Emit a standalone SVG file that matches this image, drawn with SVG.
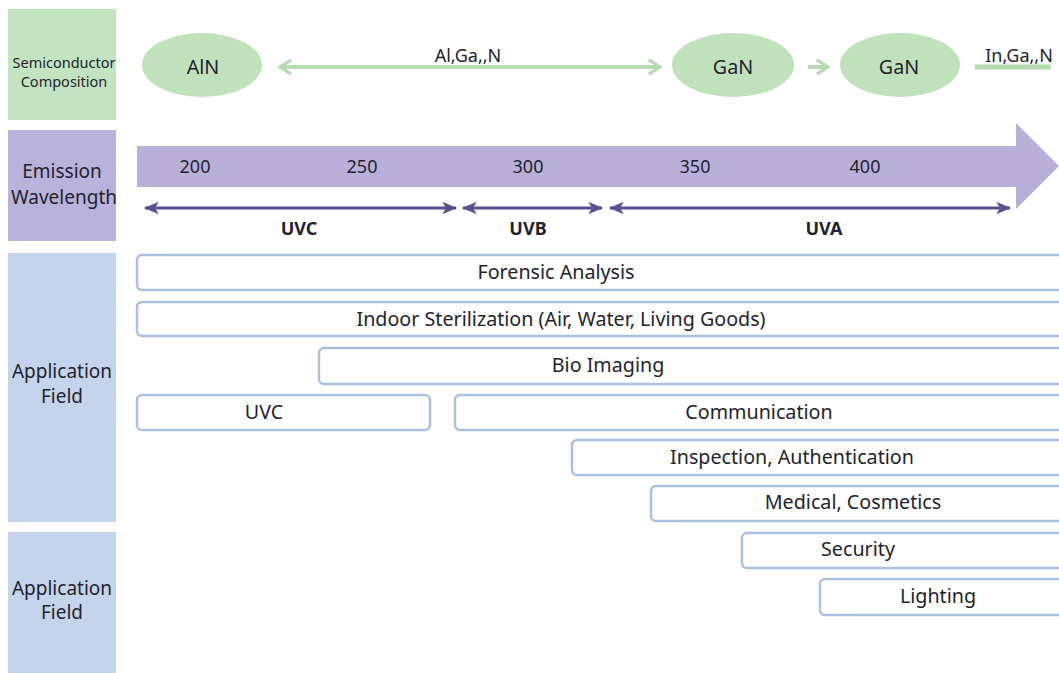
<svg xmlns="http://www.w3.org/2000/svg" width="1059" height="673" viewBox="0 0 1059 673">
<defs>
<style>
text{font-family:"Noto Sans","Open Sans","Liberation Sans",sans-serif;fill:#23232f;text-anchor:middle;dominant-baseline:central}
.lbl{font-size:19px}
.num{font-size:18px}
.band{font-size:18px;font-weight:bold}
.app{font-size:19.7px}
.box{fill:#ffffff;stroke:#aac2df;stroke-width:2.5}
.ell{fill:#bfe2bb}
.gline{stroke:#b4dcae;stroke-width:4;fill:none}
.pline{stroke:#5b5190;stroke-width:3;fill:none}
</style>
<marker id="gh" viewBox="0 0 10 10" refX="8" refY="5" markerWidth="4" markerHeight="4" orient="auto-start-reverse" markerUnits="strokeWidth">
<path d="M1,0.5 L8,5 L1,9.5" fill="none" stroke="#b4dcae" stroke-width="2"/>
</marker>
<marker id="ph" viewBox="0 0 12 10" refX="11" refY="5" markerWidth="5" markerHeight="4.5" orient="auto-start-reverse" markerUnits="strokeWidth">
<path d="M0,0 L12,5 L0,10 L3,5 Z" fill="#5b5190"/>
</marker>
</defs>
<rect width="1059" height="673" fill="#ffffff"/>

<g id="row-labels">
<g id="label-semiconductor">
<rect x="8" y="9" width="108" height="111" fill="#c3e4c0"/>
<text x="64" y="62" style="font-size:14.5px">Semiconductor</text>
<text x="64" y="81" style="font-size:14.5px">Composition</text>
</g>
<g id="label-emission">
<rect x="8" y="130" width="108" height="111" fill="#b9b2da"/>
<text class="lbl" x="62" y="171">Emission</text>
<text class="lbl" x="64" y="197">Wavelength</text>
</g>
<g id="label-app1">
<rect x="8" y="253" width="108" height="269" fill="#c3d4ec"/>
<text class="lbl" x="62" y="371">Application</text>
<text class="lbl" x="62" y="396">Field</text>
</g>
<g id="label-app2">
<rect x="8" y="532" width="108" height="141" fill="#c3d4ec"/>
<text class="lbl" x="62" y="588">Application</text>
<text class="lbl" x="62" y="612">Field</text>
</g>
</g>

<g id="node-aln"><ellipse class="ell" cx="202" cy="65" rx="60" ry="32"/><text class="app" x="203" y="66">AlN</text></g>
<g id="node-gan1"><ellipse class="ell" cx="733" cy="65" rx="61" ry="32"/><text class="app" x="733" y="66">GaN</text></g>
<g id="node-gan2"><ellipse class="ell" cx="900" cy="65" rx="60" ry="32"/><text class="app" x="899" y="66">GaN</text></g>

<g id="wavelength-bar">
<path d="M137,146 L1016,146 L1016,123 L1059,166 L1016,209 L1016,187 L137,187 Z" fill="#b8b0d9"/>
<text class="num" x="195" y="166">200</text>
<text class="num" x="362" y="166">250</text>
<text class="num" x="528" y="166">300</text>
<text class="num" x="695" y="166">350</text>
<text class="num" x="865" y="166">400</text>
</g>

<g id="connectors">
<line class="gline" x1="280" y1="67" x2="660" y2="67" marker-start="url(#gh)" marker-end="url(#gh)"/>
<line class="gline" x1="808" y1="67" x2="828" y2="67" marker-end="url(#gh)"/>
<line class="gline" x1="975" y1="67" x2="1051" y2="67" style="stroke-width:5"/>
<line class="pline" x1="145" y1="208" x2="456" y2="208" marker-start="url(#ph)" marker-end="url(#ph)"/>
<line class="pline" x1="463" y1="208" x2="602" y2="208" marker-start="url(#ph)" marker-end="url(#ph)"/>
<line class="pline" x1="610" y1="208" x2="1010" y2="208" marker-start="url(#ph)" marker-end="url(#ph)"/>
</g>

<g id="composition-labels">
<text x="468" y="55" style="font-size:18px">Al,Ga,,N</text>
<text x="1019" y="55" style="font-size:18px">In,Ga,,N</text>
</g>

<g id="band-labels">
<text class="band" x="299" y="228">UVC</text>
<text class="band" x="528" y="228">UVB</text>
<text class="band" x="824" y="228">UVA</text>
</g>

<g id="app-forensic"><rect class="box" x="137" y="255" width="930" height="35" rx="5"/><text class="app" x="556" y="271">Forensic Analysis</text></g>
<g id="app-sterilization"><rect class="box" x="137" y="302" width="930" height="34" rx="5"/><text class="app" x="561" y="318">Indoor Sterilization (Air, Water, Living Goods)</text></g>
<g id="app-bio"><rect class="box" x="319" y="348" width="748" height="36" rx="5"/><text class="app" x="608" y="364">Bio Imaging</text></g>
<g id="app-uvc"><rect class="box" x="137" y="395" width="293" height="35" rx="5"/><text class="app" x="264" y="411">UVC</text></g>
<g id="app-communication"><rect class="box" x="455" y="395" width="612" height="35" rx="5"/><text class="app" x="759" y="411">Communication</text></g>
<g id="app-inspection"><rect class="box" x="572" y="440" width="495" height="35" rx="5"/><text class="app" x="792" y="456">Inspection, Authentication</text></g>
<g id="app-medical"><rect class="box" x="651" y="486" width="416" height="35" rx="5"/><text class="app" x="853" y="501">Medical, Cosmetics</text></g>
<g id="app-security"><rect class="box" x="742" y="533" width="325" height="35" rx="5"/><text class="app" x="858" y="548">Security</text></g>
<g id="app-lighting"><rect class="box" x="820" y="579" width="247" height="36" rx="5"/><text class="app" x="938" y="595">Lighting</text></g>
</svg>
